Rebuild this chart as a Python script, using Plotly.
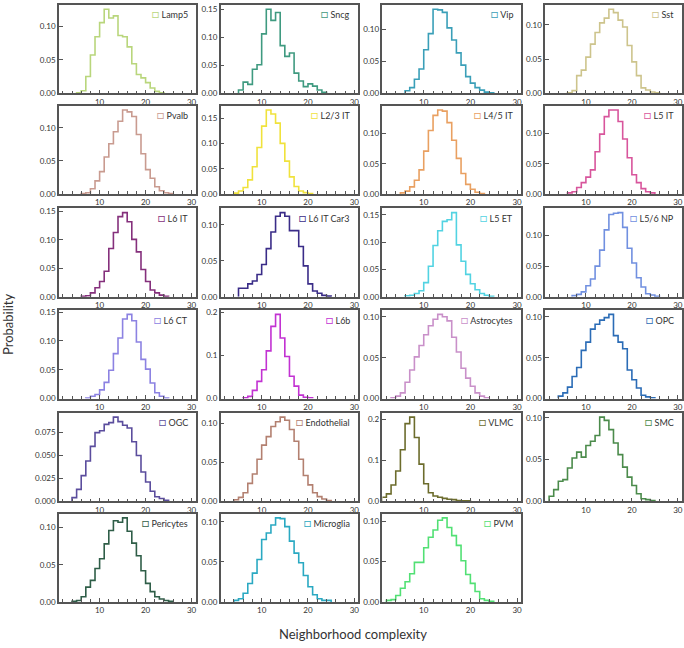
import plotly.graph_objects as go

# cell types, in panel order (row by row)
names = ["Lamp5", "Sncg", "Vip", "Sst", "Pvalb", "L2/3 IT", "L4/5 IT", "L5 IT",
         "L6 IT", "L6 IT Car3", "L5 ET", "L5/6 NP", "L6 CT", "L6b", "Astrocytes", "OPC",
         "OGC", "Endothelial", "VLMC", "SMC", "Pericytes", "Microglia", "PVM"]

colors = ["#b9d67c", "#3f9a80", "#3a9fb8", "#cdc48c", "#c99b90", "#f0e23c", "#e9a061", "#d8559c",
          "#85307c", "#3a2c88", "#52d3e2", "#7190e0", "#8c82e2", "#c232d2", "#c990c9", "#2b6cb6",
          "#5b4d9d", "#b38070", "#6c6c2c", "#4b8b4b", "#2f5e48", "#2aa9c2", "#52e074"]

# first bin (left edge) of each histogram, bins are 1 wide
first_bin = [5, 5, 6, 6, 6, 4, 5, 6, 6, 5, 6, 7, 7, 6, 3, 4, 4, 4, 1, 2, 4, 4, 2]

probs = [
    [0.001, 0.004, 0.025, 0.057, 0.084, 0.105, 0.125, 0.112, 0.115, 0.086, 0.084, 0.069, 0.044, 0.028, 0.023, 0.016, 0.008, 0.003, 0.001],
    [0.006, 0.020, 0.016, 0.043, 0.051, 0.106, 0.150, 0.130, 0.144, 0.085, 0.066, 0.072, 0.036, 0.022, 0.012, 0.017, 0.013, 0.006, 0.002],
    [0.004, 0.009, 0.022, 0.038, 0.068, 0.093, 0.131, 0.130, 0.126, 0.102, 0.083, 0.063, 0.044, 0.026, 0.016, 0.009, 0.005, 0.002, 0.001],
    [0.001, 0.004, 0.026, 0.034, 0.053, 0.072, 0.089, 0.103, 0.110, 0.123, 0.118, 0.107, 0.097, 0.070, 0.046, 0.026, 0.008, 0.005, 0.002, 0.001],
    [0.001, 0.002, 0.008, 0.020, 0.034, 0.056, 0.076, 0.094, 0.110, 0.127, 0.124, 0.117, 0.090, 0.061, 0.037, 0.024, 0.011, 0.005, 0.002, 0.001],
    [0.002, 0.006, 0.013, 0.028, 0.054, 0.092, 0.134, 0.166, 0.158, 0.140, 0.100, 0.065, 0.034, 0.015, 0.006, 0.003, 0.001],
    [0.002, 0.005, 0.012, 0.023, 0.040, 0.071, 0.105, 0.130, 0.139, 0.137, 0.118, 0.089, 0.059, 0.034, 0.016, 0.008, 0.003, 0.001],
    [0.002, 0.004, 0.011, 0.019, 0.028, 0.040, 0.070, 0.099, 0.128, 0.139, 0.139, 0.120, 0.091, 0.060, 0.032, 0.019, 0.009, 0.004, 0.002],
    [0.001, 0.002, 0.007, 0.016, 0.027, 0.045, 0.085, 0.113, 0.141, 0.148, 0.132, 0.101, 0.079, 0.048, 0.027, 0.012, 0.007, 0.003, 0.001],
    [0.012, 0.012, 0.018, 0.022, 0.031, 0.045, 0.067, 0.090, 0.112, 0.117, 0.112, 0.092, 0.092, 0.070, 0.043, 0.018, 0.008, 0.005, 0.002, 0.001],
    [0.002, 0.003, 0.006, 0.011, 0.026, 0.056, 0.094, 0.121, 0.138, 0.141, 0.154, 0.095, 0.065, 0.041, 0.024, 0.013, 0.006, 0.003, 0.001],
    [0.002, 0.004, 0.008, 0.018, 0.029, 0.050, 0.076, 0.109, 0.134, 0.136, 0.137, 0.113, 0.079, 0.055, 0.031, 0.016, 0.005, 0.003, 0.001],
    [0.001, 0.004, 0.007, 0.015, 0.028, 0.049, 0.078, 0.105, 0.138, 0.146, 0.135, 0.098, 0.068, 0.051, 0.027, 0.010, 0.004, 0.001],
    [0.002, 0.005, 0.019, 0.040, 0.067, 0.111, 0.168, 0.196, 0.141, 0.098, 0.052, 0.029, 0.008, 0.003, 0.002],
    [0.001, 0.003, 0.007, 0.020, 0.035, 0.051, 0.065, 0.078, 0.089, 0.097, 0.103, 0.100, 0.095, 0.075, 0.057, 0.037, 0.025, 0.015, 0.007, 0.003, 0.001],
    [0.003, 0.007, 0.014, 0.027, 0.038, 0.059, 0.069, 0.085, 0.091, 0.096, 0.099, 0.103, 0.077, 0.069, 0.061, 0.035, 0.023, 0.013, 0.004, 0.002, 0.001],
    [0.004, 0.013, 0.028, 0.044, 0.060, 0.075, 0.077, 0.084, 0.086, 0.092, 0.087, 0.083, 0.080, 0.065, 0.050, 0.032, 0.021, 0.011, 0.005, 0.003, 0.001],
    [0.002, 0.005, 0.011, 0.023, 0.035, 0.054, 0.072, 0.083, 0.096, 0.102, 0.108, 0.104, 0.092, 0.077, 0.054, 0.033, 0.021, 0.011, 0.006, 0.003, 0.001],
    [0.010, 0.018, 0.040, 0.074, 0.126, 0.190, 0.206, 0.156, 0.091, 0.043, 0.021, 0.013, 0.010, 0.007, 0.005, 0.004, 0.002, 0.001, 0.001],
    [0.006, 0.014, 0.024, 0.026, 0.040, 0.052, 0.059, 0.053, 0.067, 0.072, 0.079, 0.101, 0.097, 0.086, 0.070, 0.056, 0.041, 0.029, 0.019, 0.009, 0.003, 0.002, 0.001],
    [0.001, 0.002, 0.007, 0.020, 0.029, 0.045, 0.058, 0.078, 0.096, 0.109, 0.107, 0.113, 0.095, 0.079, 0.062, 0.042, 0.025, 0.014, 0.007, 0.004, 0.002, 0.001],
    [0.002, 0.004, 0.011, 0.023, 0.036, 0.053, 0.078, 0.086, 0.096, 0.105, 0.104, 0.094, 0.076, 0.061, 0.049, 0.033, 0.019, 0.009, 0.004, 0.002, 0.002],
    [0.002, 0.003, 0.008, 0.017, 0.025, 0.035, 0.049, 0.049, 0.067, 0.080, 0.089, 0.101, 0.104, 0.092, 0.082, 0.070, 0.051, 0.034, 0.023, 0.013, 0.004, 0.002, 0.001],
]

ystep = [0.05, 0.05, 0.05, 0.05, 0.05, 0.05, 0.05, 0.05, 0.05, 0.05, 0.05, 0.05,
         0.05, 0.1, 0.05, 0.05, 0.025, 0.05, 0.1, 0.05, 0.05, 0.05, 0.05]

W, H = 684, 648
col_x = [(59, 196), (221, 359), (383, 522), (546, 683)]
row_top = [2, 104, 208, 311, 415, 517]
row_h = 89.5

axc = "#555555"
txt = "#333333"
fnt = "Lato"

fig = go.Figure()
layout = dict(width=W, height=H, margin=dict(l=0, r=0, t=0, b=0),
              paper_bgcolor="white", plot_bgcolor="white", showlegend=False,
              font=dict(family=fnt, size=8, color=txt))
annotations = []

for i, name in enumerate(names):
    r, c = divmod(i, 4)
    n = i + 1
    xa = "xaxis" if n == 1 else "xaxis%d" % n
    ya = "yaxis" if n == 1 else "yaxis%d" % n
    xr = "x" if n == 1 else "x%d" % n
    yr = "y" if n == 1 else "y%d" % n

    vals = probs[i]
    edges = [first_bin[i] + k for k in range(len(vals) + 1)]
    xs = [edges[0]] + edges
    ys = [0] + vals + [0]
    fig.add_trace(go.Scatter(x=xs, y=ys, mode="lines", line_shape="hv",
                             line=dict(color=colors[i], width=1.6),
                             xaxis=xr, yaxis=yr, hoverinfo="skip"))

    x0, x1 = col_x[c]
    top = row_top[r]
    bot = top + row_h
    ymax = max(vals) * 1.05
    st = ystep[i]
    nt = int(ymax / st + 1e-9) + 1
    tv = [round(k * st, 4) for k in range(nt)]
    fmt = "%.3f" if st == 0.025 else ("%.1f" if st == 0.1 else "%.2f")
    layout[xa] = dict(domain=[x0 / W, x1 / W], anchor=yr, range=[1.15, 30.9],
                      tickvals=[10, 20, 30], ticks="inside", ticklen=4, tickwidth=1.2,
                      tickcolor=axc, showline=True, linecolor=axc, linewidth=1.5,
                      mirror=True, showgrid=False, zeroline=False,
                      tickfont=dict(size=8, color=txt),
                      minor=dict(tickvals=list(range(2, 31, 2)), ticks="inside",
                                 ticklen=3, tickcolor=axc, tickwidth=1.1, showgrid=False))
    layout[ya] = dict(domain=[1 - bot / H, 1 - top / H], anchor=xr, range=[0, ymax],
                      tickvals=tv, ticktext=[fmt % v for v in tv], ticks="inside",
                      ticklen=4, tickwidth=1.2, tickcolor=axc, showline=True,
                      linecolor=axc, linewidth=1.5, mirror=True, showgrid=False,
                      zeroline=False, tickfont=dict(size=8, color=txt))

    annotations.append(dict(
        xref=xr + " domain", yref=yr + " domain", x=0.955, y=0.9,
        xanchor="right", yanchor="middle", showarrow=False,
        text="<span style='color:%s;font-size:12px'>□</span> %s" % (colors[i], name),
        font=dict(size=9, color=txt, family=fnt)))

annotations.append(dict(xref="paper", yref="paper", x=354 / W, y=1 - 639 / H,
                        xanchor="center", yanchor="middle",
                        text="Neighborhood complexity", showarrow=False,
                        font=dict(size=13, color=txt, family=fnt)))
annotations.append(dict(xref="paper", yref="paper", x=8 / W, y=1 - 325 / H,
                        xanchor="center", yanchor="middle",
                        text="Probability", textangle=-90, showarrow=False,
                        font=dict(size=13, color=txt, family=fnt)))
layout["annotations"] = annotations

fig.update_layout(**layout)
# the page body has a default margin; drop it so the figure sits at the corner
fig.write_html("out.html", config={"displayModeBar": False},
               post_script="document.body.style.margin='0';")
